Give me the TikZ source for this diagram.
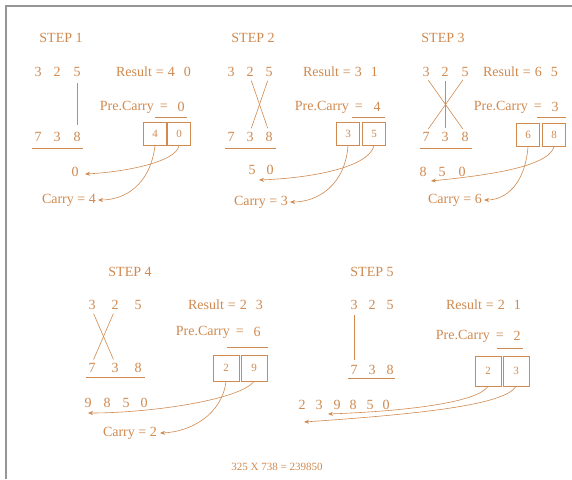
\documentclass[tikz,border=0pt]{standalone}
\usepackage{fontspec}
\setmainfont{Liberation Serif}
\usetikzlibrary{arrows.meta,calc}
\definecolor{ink}{RGB}{208,138,80}
\definecolor{framegray}{RGB}{150,150,150}
\newcommand{\resline}[2]{Result\hspace{4pt}=\hspace{4pt}#1\hspace{9pt}#2}
\newcommand{\preline}{Pre.Carry\hspace{6pt}=}
\begin{document}
\begin{tikzpicture}[x=1pt,y=-1pt,
  txt/.style={text=ink,font=\fontsize{14}{16}\selectfont,inner sep=0pt},
  cell/.style={draw=ink,line width=0.6pt,minimum width=23pt,minimum height=23pt,inner sep=0pt,text=ink,font=\fontsize{11}{13}\selectfont},
  bigcell/.style={cell,minimum width=26pt,minimum height=26pt},
  ln/.style={draw=ink,line width=0.6pt},
  cross/.style={draw=ink,line width=0.6pt,shorten <=4pt,shorten >=4pt},
  arr/.style={draw=ink,line width=0.6pt,-{Stealth[length=5pt,width=4pt]}}]
\fill[white] (0,0) rectangle (572,479);
\useasboundingbox (0,0) rectangle (572,479);
\draw[framegray,line width=2.5pt] (6,479) -- (6,6) -- (572,6);

% ---------- STEP 1 ----------
\node[txt] (st1) at (61,38) {STEP 1};
\node[txt] (s1a1) at (38,72) {3};
\node[txt] (s1a2) at (57,72) {2};
\node[txt] (s1a3) at (77,72) {5};
\node[txt] (s1b1) at (38,137) {7};
\node[txt] (s1b2) at (57,137) {3};
\node[txt] (s1b3) at (77,137) {8};
\draw[ln] (32,148) -- (83,148);
\draw[cross,shorten <=6pt,shorten >=7pt] (s1a3.south) -- (s1b3.north);
\node[txt,anchor=east] (r1) at (191,72) {\resline{4}{0}};
\node[txt,anchor=east] (p1) at (168,107) {\preline};
\node[txt] (pv1) at (181,107) {0};
\draw[ln] (155,117) -- (187,117);
\node[cell] (b1l) at (155,134) {4};
\node[cell] (b1r) at (179,134) {0};
\node[txt] (o1a) at (75,172) {0};
\node[txt,anchor=east] (c1) at (96,200) {Carry = 4};
\coordinate (t1a) at (85,174);
\coordinate (t1b) at (98,200);
\draw[arr] (b1r.south) .. controls (176,162) and (125,172) .. (t1a);
\draw[arr] (b1l.south) .. controls (150,185) and (125,200) .. (t1b);

% ---------- STEP 2 ----------
\node[txt] (st2) at (253,38) {STEP 2};
\node[txt] (s2a1) at (231,72) {3};
\node[txt] (s2a2) at (250,72) {2};
\node[txt] (s2a3) at (269,72) {5};
\node[txt] (s2b1) at (231,137) {7};
\node[txt] (s2b2) at (250,137) {3};
\node[txt] (s2b3) at (269,137) {8};
\draw[ln] (225,148) -- (276,148);
\draw[cross] (s2a2.south) -- (s2b3.north);
\draw[cross] (s2a3.south) -- (s2b2.north);
\node[txt,anchor=east] (r2) at (378,72) {\resline{3}{1}};
\node[txt,anchor=east] (p2) at (363,107) {\preline};
\node[txt] (pv2) at (377,107) {4};
\draw[ln] (352,117) -- (385,117);
\node[cell] (b2l) at (348,134) {3};
\node[cell] (b2r) at (374,134) {5};
\node[txt] (o2a) at (252,170) {5};
\node[txt] (o2b) at (270,170) {0};
\node[txt,anchor=east] (c2) at (288,202) {Carry = 3};
\coordinate (t2a) at (259,180);
\coordinate (t2b) at (290,202);
\draw[arr] (b2r.south) .. controls (368,168) and (310,178) .. (t2a);
\draw[arr] (b2l.south) .. controls (345,185) and (318,202) .. (t2b);

% ---------- STEP 3 ----------
\node[txt] (st3) at (443,38) {STEP 3};
\node[txt] (s3a1) at (426,72) {3};
\node[txt] (s3a2) at (445,72) {2};
\node[txt] (s3a3) at (465,72) {5};
\node[txt] (s3b1) at (426,137) {7};
\node[txt] (s3b2) at (445,137) {3};
\node[txt] (s3b3) at (465,137) {8};
\draw[ln] (420,148) -- (472,148);
\draw[cross] (s3a1.south) -- (s3b3.north);
\draw[cross] (s3a3.south) -- (s3b1.north);
\draw[cross] (s3a2.south) -- (s3b2.north);
\node[txt,anchor=east] (r3) at (558,72) {\resline{6}{5}};
\node[txt,anchor=east] (p3) at (542,107) {\preline};
\node[txt] (pv3) at (555,107) {3};
\draw[ln] (537,117) -- (566,117);
\node[cell] (b3l) at (528,135) {6};
\node[cell] (b3r) at (554,135) {8};
\node[txt] (o3a) at (423,172) {8};
\node[txt] (o3b) at (442,172) {5};
\node[txt] (o3c) at (462,172) {0};
\node[txt,anchor=east] (c3) at (482,200) {Carry = 6};
\coordinate (t3a) at (431,181);
\coordinate (t3b) at (484,200);
\draw[arr] (b3r.south) .. controls (548,168) and (480,176) .. (t3a);
\draw[arr] (b3l.south) .. controls (525,185) and (505,200) .. (t3b);

% ---------- STEP 4 ----------
\node[txt] (st4) at (130,272) {STEP 4};
\node[txt] (s4a1) at (92,305) {3};
\node[txt] (s4a2) at (115,305) {2};
\node[txt] (s4a3) at (138,305) {5};
\node[txt] (s4b1) at (92,368) {7};
\node[txt] (s4b2) at (115,368) {3};
\node[txt] (s4b3) at (138,368) {8};
\draw[ln] (86,377) -- (145,377);
\draw[cross] (s4a1.south) -- (s4b2.north);
\draw[cross] (s4a2.south) -- (s4b1.north);
\node[txt,anchor=east] (r4) at (263,305) {\resline{2}{3}};
\node[txt,anchor=east] (p4) at (244,332) {\preline};
\node[txt] (pv4) at (257,332) {6};
\draw[ln] (227,347) -- (268,347);
\node[bigcell] (b4l) at (226,368) {2};
\node[bigcell] (b4r) at (254,368) {9};
\node[txt] (o4a) at (88,403) {9};
\node[txt] (o4b) at (107,403) {8};
\node[txt] (o4c) at (126,403) {5};
\node[txt] (o4d) at (144,403) {0};
\node[txt,anchor=east] (c4) at (157,433) {Carry = 2};
\coordinate (t4a) at (88,413);
\coordinate (t4b) at (160,433);
\draw[arr] (b4r.south) .. controls (240,400) and (150,413) .. (t4a);
\draw[arr] (b4l.south) .. controls (222,415) and (190,432) .. (t4b);

% ---------- STEP 5 ----------
\node[txt] (st5) at (372,272) {STEP 5};
\node[txt] (s5a1) at (354,305) {3};
\node[txt] (s5a2) at (372,305) {2};
\node[txt] (s5a3) at (390,305) {5};
\node[txt] (s5b1) at (354,370) {7};
\node[txt] (s5b2) at (372,370) {3};
\node[txt] (s5b3) at (390,370) {8};
\draw[ln] (348,378) -- (395,378);
\draw[cross,line width=1pt,shorten <=5pt,shorten >=5pt] (s5a1.south) -- (s5b1.north);
\node[txt,anchor=east] (r5) at (521,305) {\resline{2}{1}};
\node[txt,anchor=east] (p5) at (504,336) {\preline};
\node[txt] (pv5) at (517,336) {2};
\draw[ln] (497,348) -- (523,348);
\node[bigcell,minimum height=30pt] (b5l) at (488,371) {2};
\node[bigcell,minimum height=30pt] (b5r) at (516,371) {3};
\node[txt] (o5a) at (302,405) {2};
\node[txt] (o5b) at (319,405) {3};
\node[txt] (o5c) at (337,405) {9};
\node[txt] (o5d) at (353,405) {8};
\node[txt] (o5e) at (370,405) {5};
\node[txt] (o5f) at (386,405) {0};
\coordinate (t5a) at (304,422);
\coordinate (t5b) at (328,414);
\draw[arr] (b5r.south) .. controls (505,405) and (420,414) .. (t5a);
\draw[arr] (b5l.south) .. controls (478,402) and (410,411) .. (t5b);

% ---------- Total ----------
\node[txt,font=\fontsize{11}{13}\selectfont] (tot) at (277,467) {325 X 738 = 239850};
\end{tikzpicture}
\end{document}
